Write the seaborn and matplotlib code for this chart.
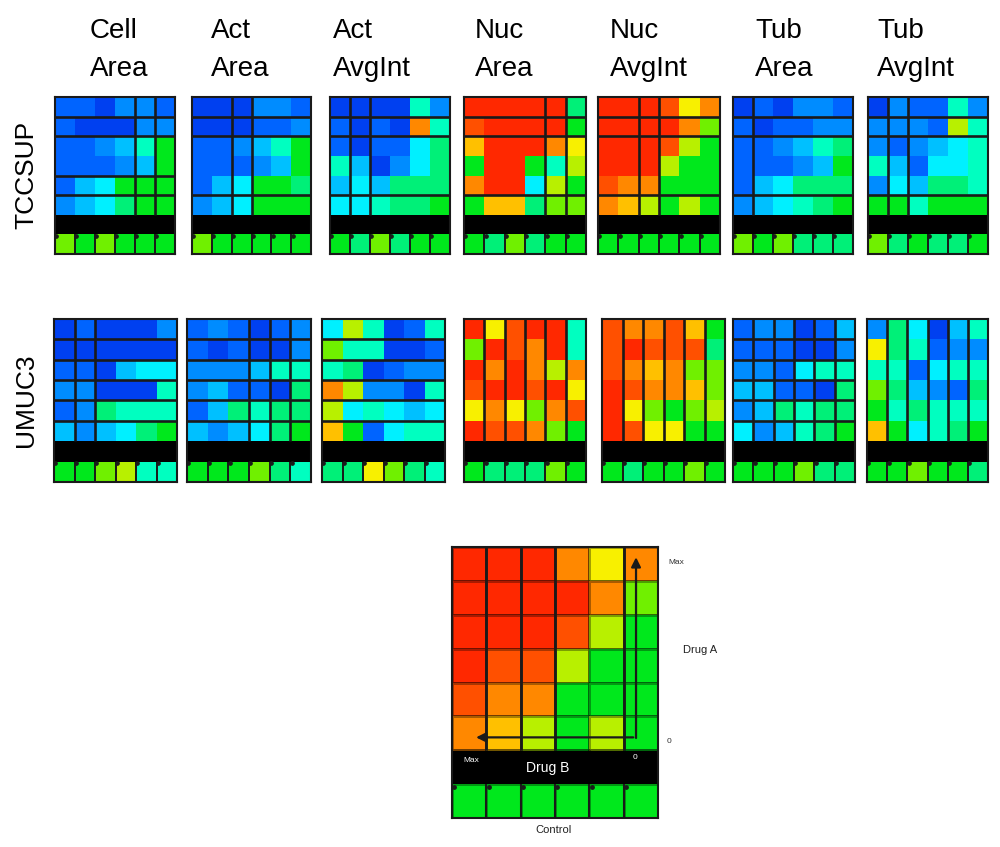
import matplotlib
matplotlib.use("Agg")
import matplotlib.pyplot as plt
import numpy as np
import seaborn as sns
from matplotlib.colors import ListedColormap

sns.set_theme(style="white")
plt.rcParams['font.family'] = ['Liberation Sans', 'DejaVu Sans']
plt.rcParams['text.color'] = 'black'

# ---------------------------------------------
# colour scale: index 0 (deep blue) .. 15 (red)
# ---------------------------------------------
PALETTE = ["#0020D0", "#0040F0", "#0064FF", "#008CFF", "#00C0FF", "#00F0FF",
           "#00FFC0", "#00F078", "#00E81C", "#70F000", "#B8F000", "#F8F000",
           "#FFC000", "#FF8800", "#FF5000", "#FF2800"]

COLUMNS = ["Cell\nArea", "Act\nArea", "Act\nAvgInt", "Nuc\nArea", "Nuc\nAvgInt", "Tub\nArea", "Tub\nAvgInt"]
CELL_LINES = ["TCCSUP", "UMUC3"]

# each panel: 6 dose rows (Drug A max -> 0), last row = control
TCCSUP_CELL_AREA = [[2, 2, 1, 3, 3, 2], [2, 1, 1, 1, 3, 3], [2, 2, 3, 4, 6, 8],
                    [2, 2, 2, 3, 4, 8], [2, 4, 5, 8, 8, 8], [3, 4, 5, 7, 8, 8],
                    [9, 8, 9, 8, 8, 8]]
TCCSUP_ACT_AREA = [[1, 1, 1, 3, 3, 2], [1, 1, 1, 2, 2, 3], [2, 2, 3, 4, 6, 8],
                   [2, 2, 2, 3, 4, 8], [2, 4, 5, 8, 8, 7], [3, 4, 5, 8, 8, 8],
                   [9, 8, 8, 8, 8, 8]]
TCCSUP_ACT_AVGINT = [[1, 1, 1, 1, 6, 3], [2, 1, 2, 1, 13, 6], [2, 1, 2, 2, 5, 7],
                     [6, 4, 1, 3, 5, 7], [4, 5, 4, 7, 7, 7], [5, 5, 6, 7, 7, 8],
                     [8, 7, 9, 7, 8, 8]]
TCCSUP_NUC_AREA = [[15, 15, 15, 15, 15, 7], [14, 15, 15, 15, 15, 8], [12, 15, 15, 15, 13, 11],
                   [8, 15, 15, 8, 6, 10], [13, 15, 15, 5, 10, 8], [8, 12, 12, 7, 9, 9],
                   [8, 7, 9, 7, 8, 8]]
TCCSUP_NUC_AVGINT = [[15, 15, 15, 14, 11, 13], [15, 15, 15, 15, 13, 9], [15, 15, 15, 14, 10, 8],
                     [15, 15, 15, 10, 8, 8], [14, 13, 13, 8, 8, 8], [13, 12, 10, 8, 10, 8],
                     [8, 8, 8, 8, 8, 8]]
TCCSUP_TUB_AREA = [[1, 2, 1, 3, 3, 2], [2, 1, 2, 2, 3, 3], [2, 2, 3, 4, 6, 7],
                   [2, 2, 2, 3, 4, 8], [2, 4, 5, 7, 7, 7], [3, 4, 5, 6, 7, 8],
                   [9, 8, 9, 7, 7, 7]]
TCCSUP_TUB_AVGINT = [[1, 3, 2, 2, 6, 3], [3, 3, 3, 2, 10, 6], [3, 2, 3, 4, 5, 6],
                     [6, 4, 2, 5, 5, 6], [3, 5, 4, 7, 7, 6], [8, 8, 6, 8, 8, 8],
                     [9, 7, 8, 7, 7, 8]]

UMUC3_CELL_AREA = [[1, 2, 1, 1, 1, 3], [1, 1, 1, 1, 1, 1], [2, 2, 1, 4, 5, 5],
                   [3, 3, 1, 1, 1, 6], [2, 3, 7, 6, 6, 6], [4, 3, 4, 5, 7, 8],
                   [8, 8, 9, 10, 6, 6]]
UMUC3_ACT_AREA = [[2, 3, 2, 1, 2, 3], [2, 1, 2, 1, 1, 3], [3, 3, 3, 4, 6, 6],
                  [3, 4, 2, 2, 1, 7], [2, 4, 7, 6, 7, 7], [4, 3, 4, 5, 7, 8],
                  [8, 8, 8, 9, 7, 6]]
UMUC3_ACT_AVGINT = [[5, 10, 6, 1, 2, 6], [9, 6, 6, 1, 1, 2], [6, 7, 1, 2, 3, 3],
                    [13, 10, 3, 3, 1, 6], [10, 5, 6, 5, 4, 5], [12, 8, 2, 5, 6, 6],
                    [7, 7, 11, 9, 7, 6]]
UMUC3_NUC_AREA = [[15, 11, 14, 15, 15, 6], [9, 15, 14, 13, 15, 6], [15, 13, 15, 13, 10, 13],
                  [14, 15, 15, 14, 15, 11], [11, 13, 11, 9, 13, 14], [15, 14, 14, 13, 9, 8],
                  [8, 7, 7, 7, 9, 8]]
UMUC3_NUC_AVGINT = [[14, 13, 13, 14, 12, 8], [14, 15, 14, 14, 14, 7], [14, 13, 12, 13, 9, 9],
                    [15, 14, 13, 13, 12, 9], [15, 11, 9, 8, 9, 10], [15, 14, 11, 11, 8, 8],
                    [8, 7, 8, 8, 9, 8]]
UMUC3_TUB_AREA = [[2, 3, 3, 1, 2, 4], [2, 2, 2, 1, 1, 3], [3, 3, 2, 5, 6, 6],
                  [4, 4, 2, 2, 1, 7], [3, 4, 7, 6, 7, 7], [5, 3, 4, 6, 7, 8],
                  [8, 8, 8, 9, 7, 7]]
UMUC3_TUB_AVGINT = [[3, 7, 5, 1, 4, 6], [11, 7, 6, 2, 3, 3], [6, 6, 2, 5, 6, 6],
                    [9, 7, 4, 3, 2, 7], [8, 6, 7, 6, 6, 6], [12, 8, 5, 6, 7, 8],
                    [8, 8, 9, 8, 8, 7]]

LEGEND_PANEL = [[15, 15, 15, 13, 11, 13], [15, 15, 15, 15, 13, 9], [15, 15, 15, 14, 10, 8],
                [15, 14, 14, 10, 8, 8], [14, 13, 13, 8, 8, 8], [13, 12, 10, 8, 10, 8],
                [8, 8, 8, 8, 8, 8]]

TCCSUP_PANELS = [TCCSUP_CELL_AREA, TCCSUP_ACT_AREA, TCCSUP_ACT_AVGINT, TCCSUP_NUC_AREA,
                 TCCSUP_NUC_AVGINT, TCCSUP_TUB_AREA, TCCSUP_TUB_AVGINT]
UMUC3_PANELS = [UMUC3_CELL_AREA, UMUC3_ACT_AREA, UMUC3_ACT_AVGINT, UMUC3_NUC_AREA,
                UMUC3_NUC_AVGINT, UMUC3_TUB_AREA, UMUC3_TUB_AVGINT]

# plate separator lines (row / column boundaries) per panel
TCCSUP_HLINES = [[1, 2, 4, 5], [1, 2, 5], [1, 2, 5], [1, 2, 5], [1, 2, 5], [1, 2, 5], [1, 2, 5]]
TCCSUP_VLINES = [[4, 5], [2, 3], [1, 2], [4, 5], [2, 3], [1], [1, 2]]
UMUC3_HLINES = [[1, 2, 3, 4, 5], [1, 2, 3, 4, 5], [1, 2, 3, 4, 5], [], [], [1, 2, 3, 4, 5], []]
UMUC3_VLINES = [[1, 2], [3, 4, 5], [], [1, 2, 3, 4, 5], [1, 2, 3, 4, 5], [1, 2, 3, 4, 5], [1, 2, 3, 4, 5]]

# layout in pixels (figure 1000 x 847)
W, H = 1000, 847
ROW1_LEFT = [55, 192, 330, 464, 598, 733, 868]
ROW1_WIDTH = [120, 119, 120, 122, 122, 120, 120]
ROW2_LEFT = [54, 187, 322, 464, 602, 733, 867]
ROW2_WIDTH = [123, 124, 123, 122, 123, 122, 121]
TITLE_X = [90, 211, 333, 475, 610, 755, 877]

CMAP = ListedColormap(PALETTE)


def px_axes(fig, left, top, width, height):
    return fig.add_axes([left / W, 1 - (top + height) / H, width / W, height / H])


def draw_panel(ax, data, hlines, vlines, thin_grid=False, lw=1.9):
    arr = np.array(data, dtype=float)
    mat = np.vstack([arr[:6], np.full((1, 6), np.nan), arr[6:7]])
    ax.set_facecolor("black")
    sns.heatmap(mat, ax=ax, cmap=CMAP, vmin=-0.5, vmax=15.5, cbar=False,
                xticklabels=False, yticklabels=False,
                linewidths=0.8 if thin_grid else 0, linecolor="#00000055")
    for b in hlines:
        ax.hlines(b, 0, 6, color="k", lw=lw)
    for b in vlines:
        ax.vlines(b, 0, 6, color="k", lw=lw)
    ax.vlines(range(1, 6), 7, 8, color="k", lw=lw * 0.75)
    ax.scatter(np.arange(6) + 0.07, np.full(6, 7.08), s=lw * 3, color="k", zorder=5)
    for sp in ax.spines.values():
        sp.set_visible(True)
        sp.set_color("k")
        sp.set_linewidth(1.5)


fig = plt.figure(figsize=(10, 8.47), dpi=100)
fig.patch.set_facecolor("white")

for i in range(7):
    ax = px_axes(fig, ROW1_LEFT[i], 97, ROW1_WIDTH[i], 157)
    draw_panel(ax, TCCSUP_PANELS[i], TCCSUP_HLINES[i], TCCSUP_VLINES[i])
    ax = px_axes(fig, ROW2_LEFT[i], 319, ROW2_WIDTH[i], 163)
    draw_panel(ax, UMUC3_PANELS[i], UMUC3_HLINES[i], UMUC3_VLINES[i])
    line1, line2 = COLUMNS[i].split("\n")
    fig.text(TITLE_X[i] / W, 1 - 38 / H, line1, fontsize=20, va="baseline", ha="left")
    fig.text(TITLE_X[i] / W, 1 - 76 / H, line2, fontsize=20, va="baseline", ha="left")

fig.text(26 / W, 1 - 175 / H, CELL_LINES[0], fontsize=19, rotation=90, ha="center", va="center")
fig.text(26 / W, 1 - 400 / H, CELL_LINES[1], fontsize=19, rotation=90, ha="center", va="center")

# legend / key panel
lax = px_axes(fig, 452, 547, 206, 271)
draw_panel(lax, LEGEND_PANEL, [], [1, 2, 3, 5], thin_grid=True, lw=2.0)
lax.annotate("", xy=(5.36, 0.22), xytext=(5.36, 5.72),
             arrowprops=dict(arrowstyle="-|>", color="k", lw=1.6, mutation_scale=14))
lax.annotate("", xy=(0.62, 5.62), xytext=(5.36, 5.62),
             arrowprops=dict(arrowstyle="-|>", color="k", lw=1.6, mutation_scale=14))

fig.text(668 / W, 1 - 562 / H, "Max", fontsize=6, va="center", ha="left", color="#333333")
fig.text(683 / W, 1 - 650 / H, "Drug A", fontsize=8, va="center", ha="left", color="#222222")
fig.text(667 / W, 1 - 741 / H, "0", fontsize=6, va="center", ha="left", color="#333333")
fig.text(463 / W, 1 - 760 / H, "Max", fontsize=6, va="center", ha="left", color="white")
fig.text(633 / W, 1 - 757 / H, "0", fontsize=6, va="center", ha="left", color="white")
fig.text(548 / W, 1 - 768 / H, "Drug B", fontsize=10, va="center", ha="center", color="white")
fig.text(553 / W, 1 - 830 / H, "Control", fontsize=8, va="center", ha="center", color="#222222")

fig.savefig("out.png", dpi=100)
plt.close(fig)
